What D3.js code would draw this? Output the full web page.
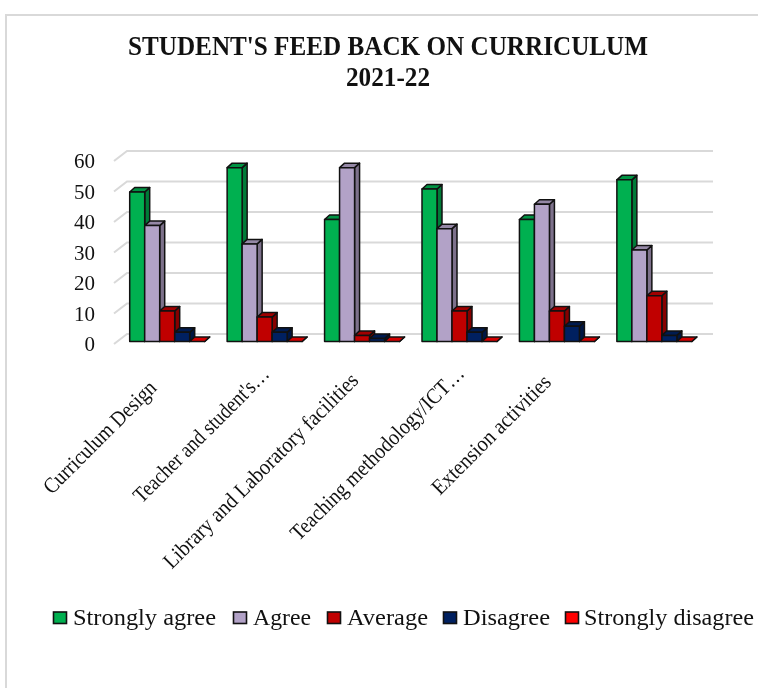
<!DOCTYPE html>
<html><head><meta charset="utf-8">
<script src="https://cdn.jsdelivr.net/npm/d3@7"></script>
<style>html,body{margin:0;padding:0;background:#fff}svg{display:block;filter:blur(0.35px)}text{font-family:"Liberation Serif",serif;fill:#111}</style>
</head><body><div id="c"></div>
<script>
const categories = ["Curriculum Design","Teacher and student's…","Library and Laboratory facilities","Teaching methodology/ICT…","Extension activities",""];
const seriesNames = ["Strongly agree","Agree","Average","Disagree","Strongly disagree"];
const stronglyAgree = [49,57,40,50,40,53];
const agree = [38,32,57,37,45,30];
const average = [10,8,2,10,10,15];
const disagree = [3,3,1,3,5,2];
const stronglyDisagree = [0,0,0,0,0,0];
const seriesValues = [stronglyAgree,agree,average,disagree,stronglyDisagree];
const colors = ["#00b050","#b2a2c7","#c00000","#002060","#ff0000"];
const yTicks = [0,10,20,30,40,50,60];

// layout
const W=758,H=688;
const labelLayout=[[100,437.5,150],[201.5,435,182],[261,471,266],[377.5,453.5,236],[491.5,435,159]];
const legendLayout=[[53.5,73,143],[233.5,253,58],[327.5,347,81],[443.5,463,87],[565.5,584,170]];

const svg=d3.select("#c").append("svg").attr("width",W).attr("height",H);
svg.append("path").attr("d","M758,15H6V688").attr("fill","none").attr("stroke","#d9d9d9").attr("stroke-width",2);

// title
const title=svg.append("g").attr("font-weight","bold").attr("text-anchor","middle");
title.append("text").attr("x",388).attr("y",55).attr("font-size",27).attr("textLength",520).attr("lengthAdjust","spacingAndGlyphs").text("STUDENT'S FEED BACK ON CURRICULUM");
title.append("text").attr("x",388).attr("y",86).attr("font-size",27).attr("textLength",84).attr("lengthAdjust","spacingAndGlyphs").text("2021-22");

const x=d3.scaleBand().domain(d3.range(categories.length)).range([120,704.6]);
const y=d3.scaleLinear().domain([0,60]).range([341.5,158.5]);
const barW=15,dx=5,dy=4.5;
const firstBar=i=>x(i)+9.7;

// grid
const gdx=13,gdy=10,gFront=2.5;
const grid=svg.append("g").attr("fill","none").attr("stroke","#d9d9d9").attr("stroke-width",2);
yTicks.forEach(t=>{
  const yf=y(t)+gFront;
  grid.append("path").attr("d",`M114,${yf}L${114+gdx},${yf-gdy}H713`);
});

// y axis labels
const axis=svg.append("g").attr("transform","translate(98,2.5)").call(d3.axisLeft(y).tickValues(yTicks).tickSize(0).tickPadding(3));
axis.select(".domain").remove();
axis.selectAll("text").attr("font-size",21).style("font-family",'"Liberation Serif",serif').attr("fill","#111");

// bars
const shade=(c,k)=>d3.color(c).darker(k).formatHex();
seriesValues.forEach((vals,s)=>{
  const g=svg.append("g").attr("stroke","#111").attr("stroke-width",1.5).attr("stroke-linejoin","round");
  vals.forEach((v,i)=>{
    const x0=firstBar(i)+s*barW,x1=x0+barW,y0=y(0),yt=y(v);
    g.append("path").attr("fill",shade(colors[s],1)).attr("d",`M${x1},${yt}l${dx},${-dy}V${y0-dy}l${-dx},${dy}Z`);
    g.append("path").attr("fill",shade(colors[s],0.5)).attr("d",`M${x0},${yt}l${dx},${-dy}h${barW}l${-dx},${dy}Z`);
    g.append("rect").attr("x",x0).attr("y",yt).attr("width",barW).attr("height",y0-yt).attr("fill",colors[s]);
  });
});

// category labels
categories.forEach((c,i)=>{
  if(!c) return;
  const [px,py,len]=labelLayout[i];
  svg.append("text").attr("transform",`translate(${px},${py}) rotate(-45)`).attr("text-anchor","middle")
    .attr("font-size",22).attr("dy","0.3em").attr("textLength",len).attr("lengthAdjust","spacingAndGlyphs").text(c);
});

// legend
const legend=svg.append("g");
seriesNames.forEach((n,i)=>{
  const [kx,tx,len]=legendLayout[i];
  legend.append("rect").attr("x",kx).attr("y",612).attr("width",13).attr("height",11.5).attr("fill",colors[i]).attr("stroke","#111").attr("stroke-width",1.6);
  legend.append("text").attr("x",tx).attr("y",625).attr("font-size",24).attr("textLength",len).attr("lengthAdjust","spacingAndGlyphs").text(n);
});
</script></body></html>
